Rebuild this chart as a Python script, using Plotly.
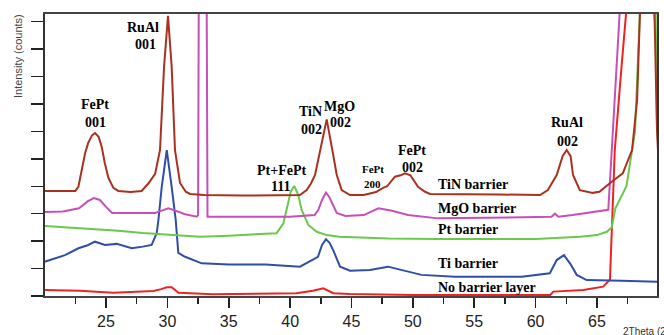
import plotly.graph_objects as go

# ---------------- data (2theta in degrees, intensity in arbitrary tick units) ----------------
tin_x = [20.0, 21.5, 22.5, 22.75, 23.0, 23.3, 23.55, 23.85, 24.1, 24.4, 24.65, 24.9, 25.2, 25.6, 26.0,
         27.0, 27.9, 28.45, 29.0, 29.4, 29.73, 30.05, 30.35, 30.62, 31.03, 31.5, 31.85, 33.0, 36.0,
         39.0, 40.8, 41.35, 41.7, 42.03, 42.44, 42.98, 43.44, 43.8, 44.2, 44.88, 46.0, 47.0, 47.57,
         47.9, 48.54, 49.0, 49.36, 49.8, 50.42, 50.99, 51.4, 54.0, 57.0, 60.36, 61.0, 61.72, 62.2,
         62.53, 62.85, 63.05, 63.6, 64.66, 65.2, 66.3, 67.1, 67.86, 68.27, 68.5, 68.6, 69.55, 69.7,
         69.89, 70.0]
tin_y = [3.83, 3.83, 3.83, 3.98, 4.59, 5.21, 5.58, 5.85, 5.94, 5.8, 5.44, 4.85, 4.30, 3.94, 3.83,
         3.79, 3.83, 4.1, 4.45, 5.32, 8.36, 10.21, 8.36, 5.32, 4.12, 3.8, 3.72, 3.68, 3.66,
         3.66, 3.68, 3.86, 4.1, 4.41, 5.32, 6.44, 5.32, 4.41, 3.86, 3.68, 3.68, 3.79, 3.94,
         4.0, 4.35, 4.4, 4.47, 4.4, 3.98, 3.80, 3.72, 3.70, 3.70, 3.68, 3.86, 4.41, 5.1,
         5.32, 5.1, 4.41, 3.86, 3.76, 3.8, 4.2, 4.47, 5.32, 7.15, 10.3, 11.5, 11.5, 10.0,
         6.05, 5.0]

mgo_x = [20.0, 21.5, 22.8, 23.5, 24.0, 24.5, 25.0, 25.5, 27.0, 29.0, 29.6, 30.08, 30.6, 31.44,
         32.39, 32.5, 32.56, 33.2, 33.27, 34.0, 37.0, 40.0, 42.0, 42.3, 42.6, 42.92, 43.2, 43.5,
         43.8, 44.5, 46.0, 47.2, 48.3, 49.6, 52.05, 56.0, 60.0, 61.3, 61.58, 61.85, 63.0, 65.65,
         65.92, 66.1, 66.5, 66.88, 67.0, 70.0]
mgo_y = [3.06, 3.08, 3.2, 3.45, 3.57, 3.5, 3.25, 3.03, 3.03, 3.03, 3.12, 3.2, 3.12, 2.98,
         2.89, 2.95, 11.0, 11.0, 2.89, 2.89, 2.89, 2.89, 2.95, 3.14, 3.50, 3.77, 3.6, 3.32,
         3.03, 2.92, 2.95, 3.2, 3.11, 2.95, 2.83, 2.85, 2.87, 2.89, 3.0, 2.89, 2.95, 3.14,
         3.14, 4.5, 7.5, 10.3, 11.5, 11.5]

pt_x = [20.0, 22.0, 24.0, 26.0, 28.0, 30.0, 32.66, 35.0, 38.9, 39.45, 39.77, 40.05, 40.34, 40.67,
        40.94, 41.48, 42.17, 42.98, 44.0, 48.0, 52.0, 56.0, 60.0, 63.62, 65.0, 65.8, 66.2, 66.5,
        67.4, 68.1, 68.5, 68.6, 69.75, 69.86, 69.89, 70.0]
pt_y = [2.55, 2.5, 2.45, 2.38, 2.3, 2.24, 2.16, 2.2, 2.29, 2.65, 3.26, 3.80, 4.01, 3.68,
        3.14, 2.59, 2.34, 2.22, 2.16, 2.1, 2.08, 2.08, 2.08, 2.16, 2.22, 2.34, 2.5, 3.2,
        4.0, 6.0, 10.3, 11.5, 11.5, 7.6, 6.16, 5.5]

ti_x = [20.0, 21.66, 22.75, 23.5, 24.1, 24.92, 25.87, 27.1, 28.0, 28.72, 29.13, 29.27, 29.54, 29.95,
        30.35, 30.68, 30.89, 31.44, 32.8, 35.0, 38.0, 40.8, 42.27, 42.6, 42.92, 43.2, 43.5, 44.07,
        44.88, 46.5, 47.97, 50.7, 53.43, 58.87, 61.16, 61.72, 62.31, 62.8, 63.35, 64.16, 67.0, 70.0]
ti_y = [1.25, 1.49, 1.74, 1.85, 1.98, 1.86, 1.9, 1.74, 1.8, 1.86, 2.29, 2.77, 3.98, 5.32,
        3.98, 2.77, 1.57, 1.43, 1.19, 1.15, 1.15, 1.07, 1.43, 1.86, 2.07, 1.95, 1.68, 1.07,
        0.92, 0.95, 1.07, 0.77, 0.70, 0.70, 0.83, 1.31, 1.49, 1.19, 0.77, 0.58, 0.56, 0.52]

nob_x = [20.0, 22.88, 25.6, 28.86, 29.5, 29.95, 30.35, 30.9, 33.74, 37.0, 40.5, 41.86, 42.7, 43.52,
         44.88, 50.0, 55.0, 61.2, 61.44, 62.5, 63.89, 65.5, 66.06, 66.2, 66.45, 67.0, 67.42, 67.6, 70.0]
nob_y = [0.22, 0.19, 0.12, 0.18, 0.25, 0.32, 0.32, 0.12, 0.06, 0.07, 0.1, 0.19, 0.28, 0.1,
         0.07, 0.04, 0.04, 0.04, 0.16, 0.18, 0.22, 0.34, 0.6, 2.3, 5.32, 8.36, 10.3, 11.5, 11.5]

series_names = ["TiN barrier", "MgO barrier", "Pt barrier", "Ti barrier", "No barrier layer"]
x_ticks = [25, 30, 35, 40, 45, 50, 55, 60, 65]
x_minor = [22.5, 27.5, 32.5, 37.5, 42.5, 47.5, 52.5, 57.5, 62.5, 67.5]
y_ticks = [0, 1, 2, 3, 4, 5, 6, 7, 8, 9, 10]

# ---------------- figure ----------------
W, H = 664, 335
L, R, T, B = 45, 7, 14, 39
PW, PH = W - L - R, H - T - B

def px(xp):
    return (xp - L) / PW

def py(yp):
    return (H - B - yp) / PH

colors = ["#A8321F", "#C64FB9", "#6CC848", "#2F4EA8", "#EE2222"]
xs = [tin_x, mgo_x, pt_x, ti_x, nob_x]
ys = [tin_y, mgo_y, pt_y, ti_y, nob_y]

fig = go.Figure()
for i in [4, 3, 2, 1, 0]:
    fig.add_trace(go.Scatter(x=xs[i], y=ys[i], mode="lines", name=series_names[i],
                             line=dict(color=colors[i], width=2), showlegend=False,
                             hoverinfo="skip"))

serif = "Liberation Serif, Times New Roman, serif"
ann = []

def lab(text, xp, yp, size=14, anchor="center"):
    ann.append(dict(text=text, x=px(xp), y=py(yp), xref="paper", yref="paper",
                    showarrow=False, xanchor=anchor, yanchor="middle",
                    font=dict(family=serif, size=size, color="black", weight="bold")))

lab("FePt", 95, 105); lab("001", 95, 122)
lab("RuAl", 143, 27); lab("001", 145, 44)
lab("TiN", 310, 112); lab("002", 311, 129)
lab("MgO", 339, 106); lab("002", 340, 123)
lab("Pt+FePt", 282, 170); lab("111", 280, 187)
lab("FePt", 373, 169, size=11); lab("200", 372, 184, size=11)
lab("FePt", 412, 150); lab("002", 412, 167)
lab("RuAl", 567, 123); lab("002", 567, 141)

for name, yp in zip(series_names, [184, 209, 229, 263, 287]):
    lab(name, 436, yp, anchor="left")

ann.append(dict(text="Intensity (counts)", x=px(18), y=py(56), xref="paper", yref="paper",
                showarrow=False, textangle=-90, xanchor="center", yanchor="middle",
                font=dict(family="Liberation Sans, Arial, sans-serif", size=11, color="#444")))
ann.append(dict(text="2Theta (2θ)", x=px(621), y=py(331), xref="paper", yref="paper",
                showarrow=False, xanchor="left", yanchor="middle",
                font=dict(family="Liberation Sans, Arial, sans-serif", size=10, color="#333")))

fig.update_layout(
    width=W, height=H,
    margin=dict(l=L, r=R, t=T, b=B, pad=0, autoexpand=False),
    paper_bgcolor="white", plot_bgcolor="white",
    annotations=ann,
    xaxis=dict(range=[20.03, 69.89], tickvals=x_ticks, ticks="outside", ticklen=10,
               tickwidth=1.5, tickcolor="#222", showline=True, linecolor="#444", linewidth=2,
               mirror=True, showgrid=False, zeroline=False, automargin=False,
               tickfont=dict(family="Liberation Sans, Arial, sans-serif", size=16, color="#222"),
               minor=dict(tickvals=x_minor, ticks="outside", ticklen=6, tickwidth=1.5,
                          tickcolor="#222", showgrid=False)),
    yaxis=dict(range=[0, 10.28], tickvals=y_ticks, ticks="outside", ticklen=12, tickwidth=1.5,
               tickcolor="#222", showticklabels=False, showline=True, linecolor="#333",
               linewidth=2, mirror=True, showgrid=False, zeroline=False, automargin=False),
)

fig.write_html("out.html", config={"displayModeBar": False, "staticPlot": True},
               post_script="document.body.style.margin='0';document.body.style.overflow='hidden';")
